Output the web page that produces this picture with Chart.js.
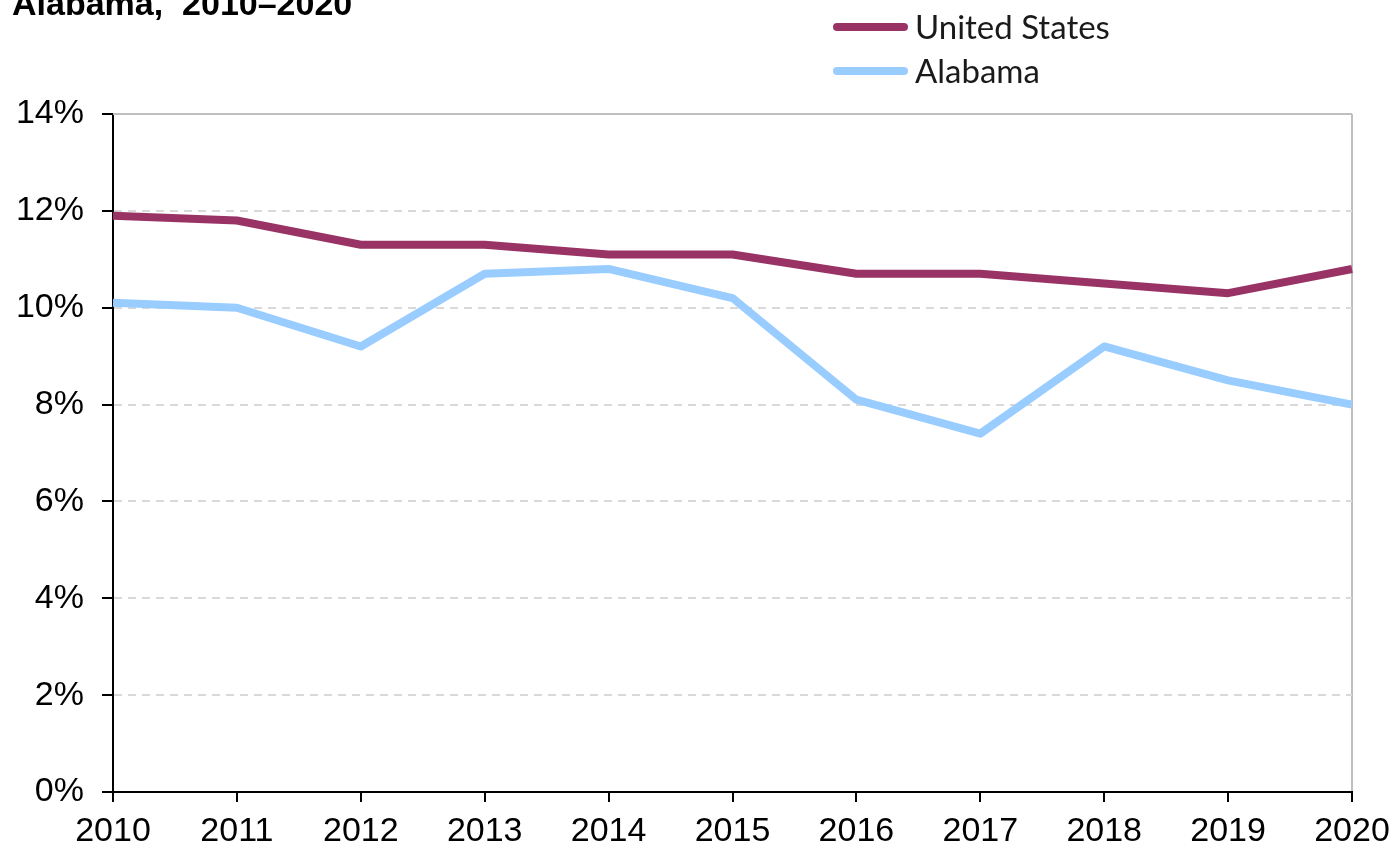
<!DOCTYPE html>
<html>
<head>
<meta charset="utf-8">
<title>Alabama, 2010–2020</title>
<script src="https://cdn.jsdelivr.net/npm/chart.js@4.4.0/dist/chart.umd.min.js"></script>
<style>
  html, body { margin: 0; padding: 0; background: #fff; overflow: hidden; }
  #wrap { position: relative; width: 1395px; height: 848px; }
  #title {
    position: absolute; left: 12px; top: -14px;
    font: bold 34px/34px "Liberation Sans", Arial, sans-serif;
    color: #000; white-space: pre;
  }
  .leg { position: absolute; left: 833px; height: 33px; display: flex; align-items: center; }
  .leg .sw { width: 75px; height: 8px; border-radius: 4px; }
  .leg .tx { margin-left: 7px; font: 33px/33px Lato, "Open Sans", sans-serif; color: #1a1a1a; white-space: nowrap; }
</style>
</head>
<body>
<div id="wrap">
  <canvas id="chart" width="1395" height="848"></canvas>
  <div id="title">Alabama,  2010–2020</div>
  <div id="legend"></div>
</div>
<script>
// data
const years = ['2010', '2011', '2012', '2013', '2014', '2015', '2016', '2017', '2018', '2019', '2020'];
const usValues = [11.9, 11.8, 11.3, 11.3, 11.1, 11.1, 10.7, 10.7, 10.5, 10.3, 10.8];
const alValues = [10.1, 10.0, 9.2, 10.7, 10.8, 10.2, 8.1, 7.4, 9.2, 8.5, 8.0];
const seriesNames = ['United States', 'Alabama'];
const seriesColors = ['#993366', '#99ccff'];

const tickFont = { family: '"Liberation Sans", Arial, sans-serif', size: 34 };

// legend (stacked, top right)
const legendEl = document.getElementById('legend');
const legendTops = [10, 54];
seriesNames.forEach((name, i) => {
  const row = document.createElement('div');
  row.className = 'leg';
  row.style.top = legendTops[i] + 'px';
  row.innerHTML = `<div class="sw" style="background:${seriesColors[i]}"></div><div class="tx">${name}</div>`;
  legendEl.appendChild(row);
});

// solid grey frame on top of the plot area
const frameTop = {
  id: 'frameTop',
  beforeDatasetsDraw(chart) {
    const { ctx, chartArea: a } = chart;
    ctx.save();
    ctx.strokeStyle = '#bfbfbf';
    ctx.lineWidth = 2;
    ctx.beginPath();
    ctx.moveTo(a.left, a.top);
    ctx.lineTo(a.right, a.top);
    ctx.stroke();
    ctx.restore();
  }
};

new Chart(document.getElementById('chart'), {
  type: 'line',
  data: {
    labels: years,
    datasets: [
      { label: seriesNames[0], data: usValues, borderColor: seriesColors[0], backgroundColor: seriesColors[0],
        borderWidth: 8, pointRadius: 0, tension: 0, borderJoinStyle: 'round' },
      { label: seriesNames[1], data: alValues, borderColor: seriesColors[1], backgroundColor: seriesColors[1],
        borderWidth: 8, pointRadius: 0, tension: 0, borderJoinStyle: 'round' }
    ]
  },
  options: {
    responsive: false,
    animation: false,
    layout: { padding: { left: 0, top: 114, right: 43, bottom: 0 } },
    plugins: { legend: { display: false }, tooltip: { enabled: false }, title: { display: false } },
    scales: {
      x: {
        offset: false,
        afterFit: s => { s.height = 56; s.paddingLeft = 0; s.paddingRight = 43; },
        grid: {
          color: c => c.index === years.length - 1 ? '#bfbfbf' : 'rgba(0,0,0,0)',
          lineWidth: 2, tickColor: '#000', tickWidth: 2, tickLength: 10
        },
        border: { color: '#000', width: 2 },
        ticks: { color: '#000', font: tickFont, padding: 9, maxRotation: 0, autoSkip: false }
      },
      y: {
        min: 0, max: 14,
        afterFit: s => { s.width = 113; },
        grid: {
          color: c => (c.tick.value > 0 && c.tick.value < 14) ? '#d9d9d9' : 'rgba(0,0,0,0)',
          lineWidth: 2, tickColor: '#000', tickWidth: 2, tickLength: 11
        },
        border: { color: '#000', width: 2, dash: [8, 6] },
        ticks: { stepSize: 2, color: '#000', font: tickFont, padding: 18, callback: v => v + '%' }
      }
    }
  },
  plugins: [frameTop]
});
</script>
</body>
</html>
